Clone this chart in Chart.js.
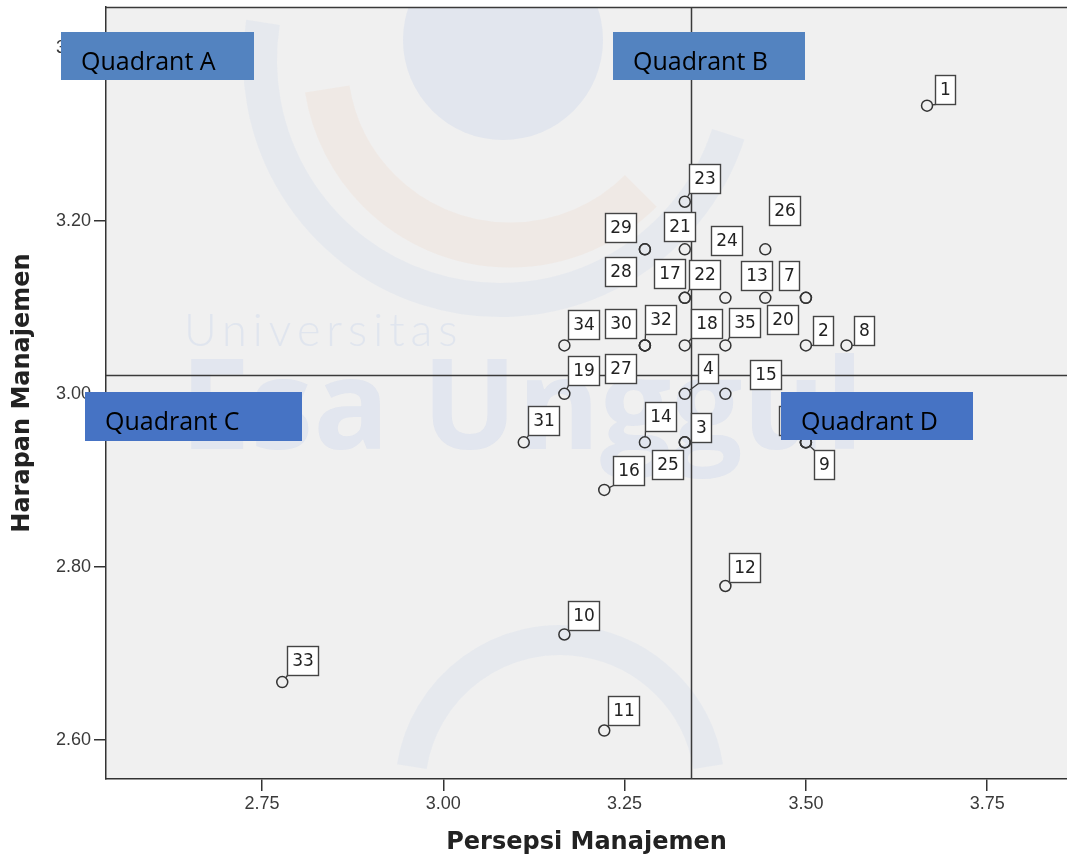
<!DOCTYPE html>
<html lang="en">
<head>
  <meta charset="UTF-8">
  <title>Persepsi vs Harapan Manajemen</title>
  <script src="https://cdn.jsdelivr.net/npm/chart.js"></script>
  <style>
    html, body { margin: 0; padding: 0; background: #fff; }
    .wrap { width: 1067px; height: 860px; position: relative; }
  </style>
</head>
<body>
  <div class="wrap"><canvas id="quadChart"></canvas></div>

  <script>
    // respondent numbers and their mean scores (steps of 1/18)
    const respondentIds = [1, 2, 3, 4, 5, 6, 7, 8, 9, 10, 11, 12, 13, 14, 15, 16, 17, 18,
                           19, 20, 21, 22, 23, 24, 25, 26, 27, 28, 29, 30, 31, 32, 33, 34, 35];
    const persepsi = [3.667, 3.500, 3.333, 3.333, 3.500, 3.500, 3.500, 3.556, 3.500, 3.167,
                      3.222, 3.389, 3.444, 3.278, 3.389, 3.222, 3.333, 3.333, 3.167, 3.500,
                      3.333, 3.333, 3.333, 3.389, 3.333, 3.444, 3.278, 3.278, 3.278, 3.278,
                      3.111, 3.278, 2.778, 3.167, 3.389];
    const harapan = [3.333, 3.056, 2.944, 3.000, 2.944, 2.944, 3.111, 3.056, 2.944, 2.722,
                     2.611, 2.778, 3.111, 2.944, 3.000, 2.889, 3.111, 3.056, 3.000, 3.111,
                     3.167, 3.111, 3.222, 3.111, 2.944, 3.167, 3.056, 3.167, 3.167, 3.056,
                     2.944, 3.056, 2.667, 3.056, 3.056];

    const xTickValues = [2.75, 3.00, 3.25, 3.50, 3.75];
    const yTickValues = [2.60, 2.80, 3.00, 3.20, 3.40];

    // mean lines that split the quadrants
    const meanPersepsi = 3.341;
    const meanHarapan = 3.022;

    const quadrantNames = ['Quadrant A', 'Quadrant B', 'Quadrant C', 'Quadrant D'];

    // ---- layout only below here ----

    // where each number box sits relative to its point (px), like the SPSS output
    const labelOffsets = {
      1: [18, -16], 2: [17, -15], 3: [16, -15], 4: [23, -25], 5: [-17, -22], 6: [19, -22],
      7: [-17, -22], 8: [17, -15], 9: [18, 22], 10: [19, -19], 11: [19, -20], 12: [19, -19],
      13: [-9, -22], 14: [16, -26], 15: [40, -19], 16: [24, -19], 17: [-15, -24], 18: [22, -22],
      19: [19, -23], 20: [-23, 22], 21: [-5, -23], 22: [20, -23], 23: [20, -23], 24: [1, -57],
      25: [-17, 22], 26: [19, -39], 27: [-24, 23], 28: [-24, 22], 29: [-24, -22], 30: [-24, -22],
      31: [20, -22], 32: [16, -26], 33: [20, -22], 34: [19, -21], 35: [19, -23]
    };

    // blue callouts pasted over the chart (page pixels)
    const calloutBoxes = [
      { x: 61,  y: 32,  w: 193, h: 48, color: '#5383c0' },
      { x: 613, y: 32,  w: 192, h: 48, color: '#5383c0' },
      { x: 85,  y: 392, w: 217, h: 49, color: '#4673c4' },
      { x: 781, y: 392, w: 192, h: 48, color: '#4673c4' }
    ];

    const plotBackground = {
      id: 'plotBackground',
      beforeDraw(chart) {
        const { ctx, chartArea: a } = chart;
        ctx.save();
        ctx.fillStyle = '#f0f0f0';
        ctx.fillRect(a.left, a.top, a.right - a.left, a.bottom - a.top);

        // faint university watermark
        ctx.beginPath();
        ctx.rect(a.left, a.top, a.right - a.left, a.bottom - a.top);
        ctx.clip();
        ctx.fillStyle = 'rgba(190, 204, 232, 0.28)';
        ctx.beginPath();
        ctx.arc(503, 40, 100, 0, Math.PI * 2);
        ctx.fill();
        ctx.strokeStyle = 'rgba(190, 204, 232, 0.18)';
        ctx.lineWidth = 34;
        ctx.beginPath();
        ctx.arc(500, 60, 240, 0.1 * Math.PI, 1.05 * Math.PI);
        ctx.stroke();
        ctx.strokeStyle = 'rgba(240, 190, 160, 0.12)';
        ctx.lineWidth = 45;
        ctx.beginPath();
        ctx.arc(510, 60, 185, 0.25 * Math.PI, 0.95 * Math.PI);
        ctx.stroke();
        ctx.strokeStyle = 'rgba(190, 204, 232, 0.18)';
        ctx.lineWidth = 30;
        ctx.beginPath();
        ctx.arc(560, 790, 150, 1.05 * Math.PI, 1.95 * Math.PI);
        ctx.stroke();

        ctx.fillStyle = 'rgba(195, 208, 235, 0.35)';
        ctx.font = '300 45px Lato';
        ctx.letterSpacing = '6px';
        ctx.textBaseline = 'alphabetic';
        ctx.fillText('Universitas', 184, 346);
        ctx.letterSpacing = '0px';
        ctx.fillStyle = 'rgba(185, 200, 235, 0.25)';
        ctx.font = 'bold 126px "Open Sans"';
        ctx.fillText('Esa Unggul', 180, 449);
        ctx.restore();
      }
    };

    const meanLines = {
      id: 'meanLines',
      beforeDatasetsDraw(chart) {
        const { ctx, chartArea: a, scales } = chart;
        const mx = Math.round(scales.x.getPixelForValue(meanPersepsi)) + 0.5;
        const my = Math.round(scales.y.getPixelForValue(meanHarapan)) + 0.5;
        ctx.save();
        ctx.strokeStyle = '#3a3a3a';
        ctx.lineWidth = 1.5;
        ctx.beginPath();
        ctx.moveTo(mx, a.top);
        ctx.lineTo(mx, a.bottom);
        ctx.moveTo(a.left, my);
        ctx.lineTo(a.right, my);
        // top frame of the plot
        ctx.moveTo(a.left, a.top + 0.5);
        ctx.lineTo(a.right, a.top + 0.5);
        ctx.stroke();
        ctx.restore();
      }
    };

    const pointLabels = {
      id: 'pointLabels',
      afterDatasetsDraw(chart) {
        const ctx = chart.ctx;
        const meta = chart.getDatasetMeta(0);
        ctx.save();
        ctx.font = '17px "DejaVu Sans"';
        ctx.textAlign = 'center';
        ctx.textBaseline = 'middle';
        meta.data.forEach((pt, i) => {
          const id = respondentIds[i];
          const off = labelOffsets[id] || [18, -18];
          const txt = String(id);
          const w = Math.round(ctx.measureText(txt).width + 9);
          const h = 29;
          const cx = pt.x + off[0];
          const cy = pt.y + off[1];
          const bx = Math.round(cx - w / 2) + 0.5;
          const by = Math.round(cy - h / 2) + 0.5;

          // short leader line when the box sits just right of its point
          const nx = Math.max(bx, Math.min(pt.x, bx + w));
          const ny = Math.max(by, Math.min(pt.y, by + h));
          const d = Math.hypot(nx - pt.x, ny - pt.y);
          if (d > 6 && d < 20 && nx > pt.x) {
            ctx.strokeStyle = '#3a3a3a';
            ctx.lineWidth = 1.3;
            ctx.beginPath();
            ctx.moveTo(pt.x + (nx - pt.x) / d * 5.5, pt.y + (ny - pt.y) / d * 5.5);
            ctx.lineTo(nx, ny);
            ctx.stroke();
          }

          ctx.fillStyle = '#ffffff';
          ctx.fillRect(bx, by, w, h);
          ctx.strokeStyle = '#444';
          ctx.lineWidth = 1.4;
          ctx.strokeRect(bx, by, w, h);
          ctx.fillStyle = '#222';
          ctx.fillText(txt, bx + w / 2, by + h / 2 + 1);
        });
        ctx.restore();
      }
    };

    const quadrantCallouts = {
      id: 'quadrantCallouts',
      afterDraw(chart) {
        const ctx = chart.ctx;
        ctx.save();
        ctx.font = '25px "Open Sans"';
        ctx.textBaseline = 'alphabetic';
        ctx.textAlign = 'left';
        calloutBoxes.forEach((b, i) => {
          ctx.fillStyle = b.color;
          ctx.fillRect(b.x, b.y, b.w, b.h);
          ctx.fillStyle = '#000';
          ctx.fillText(quadrantNames[i], b.x + 20, b.y + 38);
        });
        ctx.restore();
      }
    };

    const tickFont = { family: '"Liberation Sans", Arial, sans-serif', size: 18 };
    const titleFont = { family: '"DejaVu Sans", sans-serif', size: 24, weight: 'bold' };

    new Chart(document.getElementById('quadChart'), {
      type: 'scatter',
      data: {
        datasets: [{
          label: 'Responden',
          data: persepsi.map((v, i) => ({ x: v, y: harapan[i] })),
          pointStyle: 'circle',
          pointRadius: 5.5,
          pointHoverRadius: 5.5,
          pointBorderWidth: 1.5,
          pointBorderColor: '#333',
          pointBackgroundColor: 'rgba(0,0,0,0)'
        }]
      },
      options: {
        responsive: true,
        maintainAspectRatio: false,
        animation: false,
        layout: { autoPadding: false, padding: { top: 7, right: 0, bottom: 0, left: 0 } },
        plugins: {
          legend: { display: false },
          tooltip: { enabled: false }
        },
        scales: {
          x: {
            type: 'linear',
            min: 2.535,
            max: 3.86,
            afterBuildTicks: s => { s.ticks = xTickValues.map(v => ({ value: v })); },
            afterFit: s => { s.height = 81; s.paddingLeft = 0; s.paddingRight = 0; },
            ticks: {
              callback: v => Number(v).toFixed(2),
              font: tickFont,
              color: '#3a3a3a',
              padding: 2,
              maxRotation: 0,
              autoSkip: false
            },
            grid: { drawOnChartArea: false, drawTicks: true, tickLength: 12, color: '#333', lineWidth: 1.5 },
            border: { display: true, color: '#333', width: 1.5 },
            title: {
              display: true,
              text: 'Persepsi Manajemen',
              font: titleFont,
              color: '#222',
              padding: { top: 4, bottom: 3 }
            }
          },
          y: {
            type: 'linear',
            min: 2.555,
            max: 3.447,
            afterBuildTicks: s => { s.ticks = yTickValues.map(v => ({ value: v })); },
            afterFit: s => { s.width = 106; s.paddingTop = 0; s.paddingBottom = 0; },
            ticks: {
              callback: v => Number(v).toFixed(2),
              font: tickFont,
              color: '#3a3a3a',
              padding: 3,
              autoSkip: false
            },
            grid: { drawOnChartArea: false, drawTicks: true, tickLength: 12, color: '#333', lineWidth: 1.5 },
            border: { display: true, color: '#333', width: 1.5 },
            title: {
              display: true,
              text: 'Harapan Manajemen',
              font: titleFont,
              color: '#222',
              padding: { top: 8, bottom: 4 }
            }
          }
        }
      },
      plugins: [plotBackground, meanLines, pointLabels, quadrantCallouts]
    });
  </script>
</body>
</html>
